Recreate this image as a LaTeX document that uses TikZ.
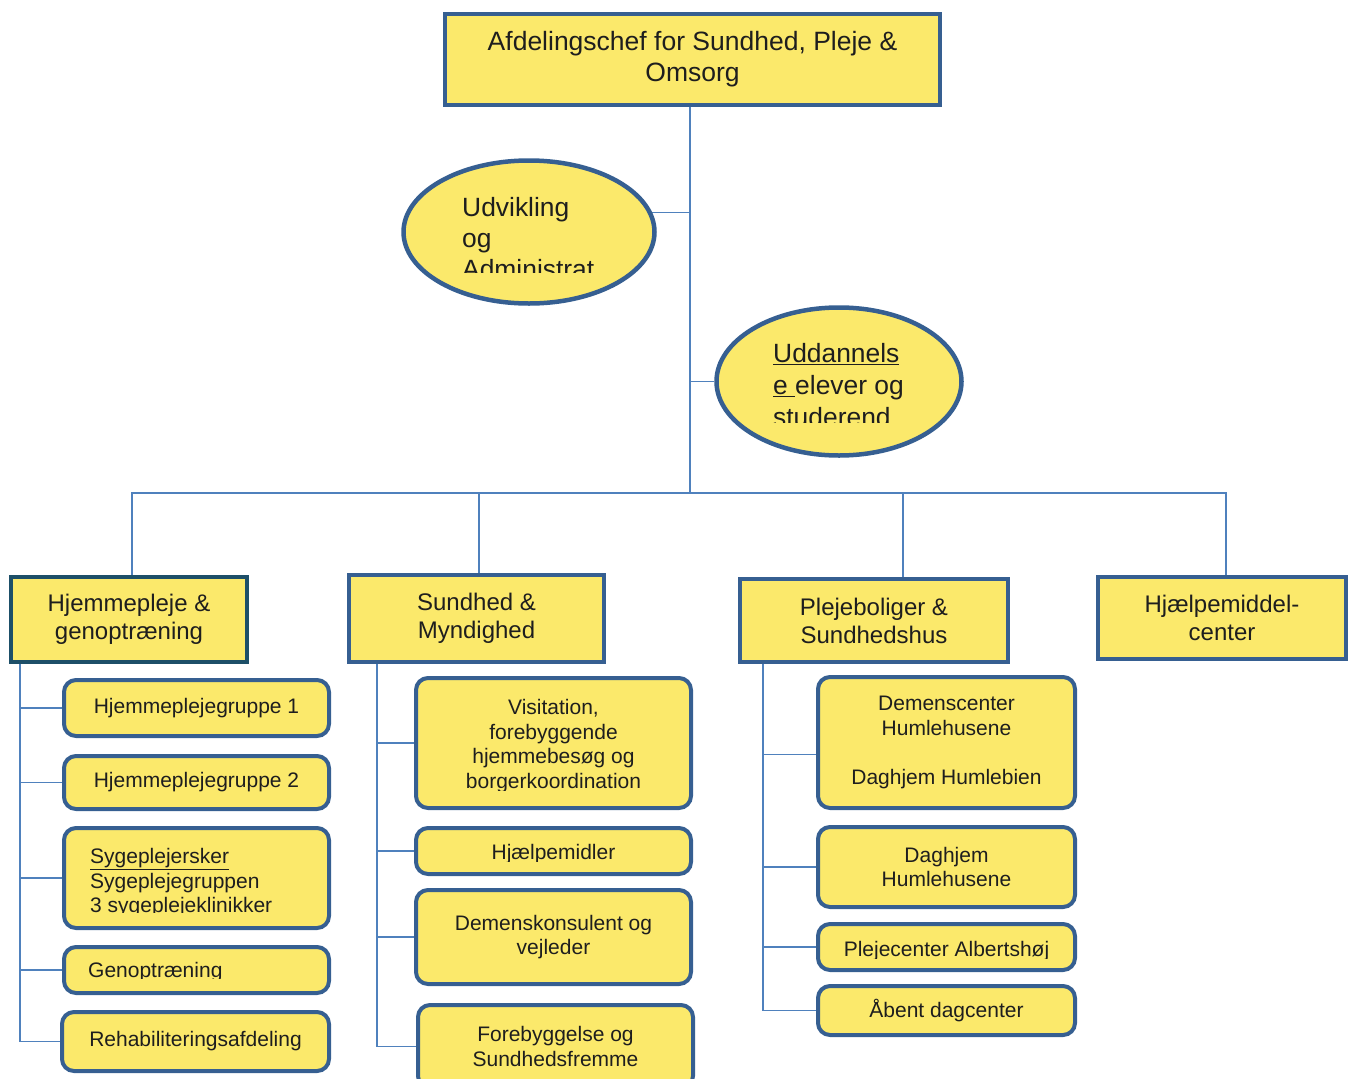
\documentclass[tikz,border=0pt]{standalone}
\usepackage{fontspec}
\setmainfont{Liberation Sans}
\usetikzlibrary{shapes.geometric,backgrounds}
\definecolor{boxfill}{HTML}{FBE96B}
\definecolor{boxline}{HTML}{365F91}
\definecolor{headline}{HTML}{1D4F68}
\definecolor{linkblue}{HTML}{4F81BD}
\definecolor{txt}{HTML}{1E1E1E}
\begin{document}
\begin{tikzpicture}[x=1pt, y=-1pt,
  head/.style={draw=boxline, line width=4pt, fill=boxfill, inner sep=0pt, align=center, text=txt,
    font=\fontsize{24}{28}\selectfont},
  unit/.style={draw=boxline, line width=4pt, fill=boxfill, rounded corners=12pt, inner sep=0pt,
    align=center, text=txt, font=\fontsize{21}{24.7}\selectfont},
  blob/.style={ellipse, draw=boxline, line width=4.5pt, fill=boxfill, inner sep=0pt},
  words/.style={inner sep=0pt, text=txt, font=\fontsize{21}{24.7}\selectfont},
  link/.style={draw=linkblue, line width=1.8pt}]
  \useasboundingbox (0,0) rectangle (1350,1079);
  \clip (0,0) rectangle (1350,1079);

  % top
  \node[head, minimum width=495, minimum height=91, font=\fontsize{26.5}{31}\selectfont] (chef) at (692.5,59.5)
    {Afdelingschef for Sundhed, Pleje \&\\Omsorg};

  % staff functions
  \node[blob, minimum width=251, minimum height=143] (udv) at (529,232) {};
  \node[blob, minimum width=245, minimum height=148] (udd) at (839,381.5) {};
  \begin{scope}
    \clip (455,185) rectangle (640,272);
    \node[words, anchor=north west, align=left, font=\fontsize{26.4}{31}\selectfont] (udvtxt) at (462,197)
      {Udvikling\\og\\Administrat\\ion};
  \end{scope}
  \begin{scope}
    \clip (765,330) rectangle (930,422);
    \node[words, anchor=north west, align=left, font=\fontsize{26.4}{32}\selectfont] (uddtxt) at (773,343)
      {\underline{Uddannels}\\\underline{e\ }elever og\\studerend\\e};
  \end{scope}

  % departments
  \node[head, draw=headline, minimum width=236, minimum height=85] (hj) at (129,619.5) {Hjemmepleje \&\\genoptræning};
  \node[head, minimum width=255, minimum height=87] (sm) at (476.5,618.5) {Sundhed \&\\Myndighed};
  \node[head, minimum width=268, minimum height=83] (pb) at (874,620.5) {Plejeboliger \&\\Sundhedshus};
  \node[head, minimum width=248, minimum height=82] (hjm) at (1222,618) {Hjælpemiddel-\\center};

  % Hjemmepleje
  \node[unit, minimum width=265, minimum height=56] (hg1) at (196.5,708) {Hjemmeplejegruppe 1};
  \node[unit, minimum width=265, minimum height=53] (hg2) at (196.5,782.5) {Hjemmeplejegruppe 2};
  \node[unit, minimum width=265, minimum height=100] (syg) at (196.5,878) {};
  \node[unit, minimum width=265, minimum height=46] (gen) at (196.5,970) {};
  \node[unit, minimum width=267, minimum height=59] (reh) at (195.5,1041.5) {Rehabiliteringsafdeling};
  \begin{scope}
    \clip (80,840) rectangle (320,912);
    \node[words, anchor=north west, align=left] (sygtxt) at (90,848)
      {\underline{Sygeplejersker}\\Sygeplejegruppen\\3 sygeplejeklinikker};
  \end{scope}
  \begin{scope}
    \clip (80,950) rectangle (320,978);
    \node[words, anchor=north west] (gentxt) at (88,962) {Genoptræning};
  \end{scope}

  % Sundhed
  \node[unit, minimum width=275, minimum height=130] (vis) at (553.5,743) {};
  \node[unit, minimum width=275, minimum height=46] (hjm2) at (553.5,851) {};
  \node[unit, minimum width=275, minimum height=94] (dem) at (553.5,937) {Demenskonsulent og\\vejleder};
  \node[unit, minimum width=275, minimum height=83] (fore) at (555.5,1046.5) {Forebyggelse og\\Sundhedsfremme};
  \begin{scope}
    \clip (420,690) rectangle (690,790);
    \node[words, anchor=north, align=center] (vistxt) at (553.5,699)
      {Visitation,\\forebyggende\\hjemmebesøg og\\borgerkoordination};
  \end{scope}
  \begin{scope}
    \clip (420,835) rectangle (690,861);
    \node[words, anchor=north] (hjm2txt) at (553.5,844.5) {Hjælpemidler};
  \end{scope}

  % Plejeboliger
  \node[unit, minimum width=257, minimum height=131] (dc) at (946.5,742.5)
    {Demenscenter\\Humlehusene\\[24.7pt]Daghjem Humlebien};
  \node[unit, minimum width=257, minimum height=80] (dh) at (946.5,867) {Daghjem\\Humlehusene};
  \node[unit, minimum width=257, minimum height=46] (pc) at (946.5,947) {};
  \node[unit, minimum width=257, minimum height=49] (ab) at (946.5,1010.5) {Åbent dagcenter};
  \begin{scope}
    \clip (825,935) rectangle (1070,958);
    \node[words, anchor=north] (pctxt) at (946.5,941.5) {Plejecenter Albertshøj};
  \end{scope}

  % connectors
  \begin{scope}[on background layer]
    \coordinate (hub) at (690,493);
    \draw[link] (chef.south -| hub) -- (hub);
    \draw[link] (udv.9) -- (udv.9 -| hub);
    \draw[link] (udd.west) -- (udd.west -| hub);
    \draw[link] ([xshift=3]hj.north) |- (hub) -| ([xshift=4]hjm.north);
    \draw[link] ([xshift=2.5]sm.north) -- ([xshift=2.5]sm.north |- hub);
    \draw[link] ([xshift=29]pb.north) -- ([xshift=29]pb.north |- hub);

    \coordinate (hjbar) at ([xshift=11]hj.south west);
    \draw[link] (hjbar) |- (reh.west);
    \foreach \n in {hg1,hg2,syg,gen}
      \draw[link] (\n.west -| hjbar) -- (\n.west);

    \coordinate (smbar) at ([xshift=30]sm.south west);
    \draw[link] (smbar) |- (fore.west);
    \foreach \n in {vis,hjm2,dem}
      \draw[link] (\n.west -| smbar) -- (\n.west);

    \coordinate (pbbar) at ([xshift=25]pb.south west);
    \draw[link] (pbbar) |- (ab.west);
    \path ([yshift=-12]dc.west) coordinate (dcin);
    \draw[link] (dcin -| pbbar) -- (dcin);
    \foreach \n in {dh,pc}
      \draw[link] (\n.west -| pbbar) -- (\n.west);
  \end{scope}
\end{tikzpicture}
\end{document}
